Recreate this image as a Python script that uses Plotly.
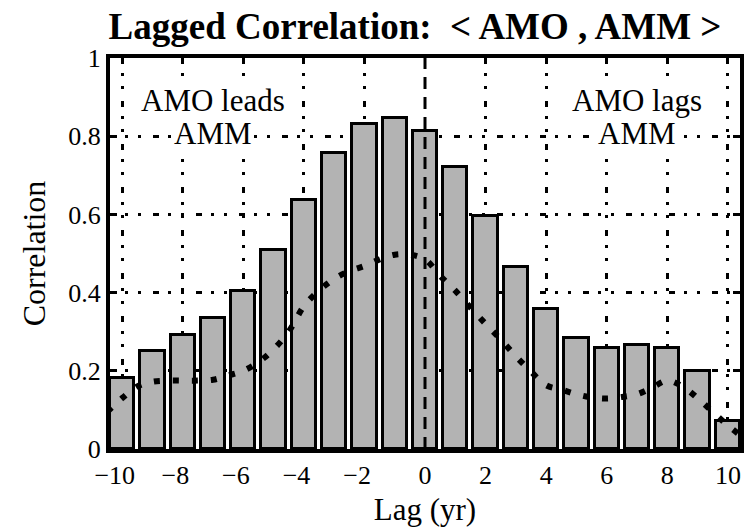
import plotly.graph_objects as go

# ---------------- data ----------------
lags = [-10, -9, -8, -7, -6, -5, -4, -3, -2, -1, 0, 1, 2, 3, 4, 5, 6, 7, 8, 9, 10]
corr_bars = [0.182, 0.250, 0.291, 0.334, 0.405, 0.509, 0.638, 0.757, 0.830, 0.846, 0.813,
             0.722, 0.595, 0.466, 0.357, 0.284, 0.258, 0.266, 0.258, 0.200, 0.071]

smooth_lags = [-10.5, -10, -9.5, -9, -8.5, -8, -7.5, -7, -6.5, -6, -5.5, -5, -4.5, -4, -3.5, -3,
               -2.5, -2, -1.5, -1, -0.5, 0, 0.5, 1, 1.5, 2, 2.5, 3, 3.5, 4, 4.5, 5, 5.5, 6,
               6.5, 7, 7.5, 8, 8.5, 9, 9.5, 10, 10.5]
smooth_corr = [0.095, 0.130, 0.160, 0.172, 0.175, 0.175, 0.175, 0.177, 0.188, 0.200, 0.222, 0.255,
               0.300, 0.365, 0.405, 0.435, 0.455, 0.468, 0.485, 0.497, 0.497, 0.485, 0.443, 0.405,
               0.362, 0.320, 0.280, 0.237, 0.198, 0.163, 0.152, 0.140, 0.132, 0.129, 0.133, 0.140,
               0.157, 0.175, 0.160, 0.130, 0.095, 0.060, 0.030]

x_tick_vals = [-10, -8, -6, -4, -2, 0, 2, 4, 6, 8, 10]
x_tick_text = ["\u221210", "\u22128", "\u22126", "\u22124", "\u22122", "0", "2", "4", "6", "8", "10"]
x_grid_vals = [-10, -8, -6, -4, -2, 2, 4, 6, 8, 10]
y_tick_vals = [0, 0.2, 0.4, 0.6, 0.8, 1]
y_tick_text = ["0", "0.2", "0.4", "0.6", "0.8", "1"]

title_text = "<b>Lagged Correlation:\u00a0\u00a0&lt; AMO , AMM &gt;</b>"
lead_text = ["AMO leads", "AMM"]
lag_text = ["AMO lags", "AMM"]

# ---------------- styles ----------------
SERIF = "Liberation Serif, Times New Roman, serif"
GRID_DASH = "6px,9px,3px,10px,3px,12px"
pad = "<span style='color:rgba(0,0,0,0)'>\u2212</span>"
x_tick_text_padded = [t + pad if t.startswith("\u2212") else t for t in x_tick_text]

fig = go.Figure()

fig.add_trace(go.Bar(
    x=lags, y=corr_bars, width=0.8,
    marker=dict(color="#b3b3b3", line=dict(color="black", width=3)),
    showlegend=False, hoverinfo="skip",
))

fig.add_trace(go.Scatter(
    x=smooth_lags, y=smooth_corr, xaxis="x2", mode="lines",
    line=dict(color="black", width=6, dash="6px,13px", shape="spline"),
    showlegend=False, hoverinfo="skip",
))

# dashed line at zero lag
fig.add_shape(type="line", xref="x", yref="y", x0=0, x1=0, y0=0, y1=1,
              line=dict(color="black", width=3, dash="12px,8px"), layer="above")

annots = []
for t, yv in zip(lead_text, [0.891, 0.808]):
    annots.append(dict(x=-7, y=yv, xref="x", yref="y", text=t, showarrow=False,
                       bgcolor="white", borderpad=0,
                       font=dict(family=SERIF, size=31, color="black")))
for t, yv in zip(lag_text, [0.891, 0.808]):
    annots.append(dict(x=7, y=yv, xref="x", yref="y", text=t, showarrow=False,
                       bgcolor="white", borderpad=0,
                       font=dict(family=SERIF, size=31, color="black")))

fig.update_layout(
    width=747, height=527,
    margin=dict(l=110, r=3, t=58, b=75, pad=0),
    paper_bgcolor="white", plot_bgcolor="white",
    title=dict(text=title_text, x=415 / 747, xanchor="center", xref="container",
               y=1 - 26 / 527, yanchor="middle", yref="container",
               font=dict(family=SERIF, size=37, color="black")),
    bargap=0,
    annotations=annots,
    xaxis=dict(
        range=[-10.4, 10.4], tickmode="array", tickvals=x_tick_vals, ticktext=x_tick_text_padded,
        ticks="", showline=True, linewidth=4, linecolor="black", mirror=True,
        showgrid=False, zeroline=False,
        tickfont=dict(family=SERIF, size=26, color="black"),
        title=dict(text="Lag (yr)", font=dict(family=SERIF, size=31, color="black"), standoff=12),
    ),
    xaxis2=dict(
        range=[-10.4, 10.4], overlaying="x", anchor="y", side="bottom",
        tickmode="array", tickvals=x_grid_vals, showticklabels=False, ticks="",
        showline=False, zeroline=False, showgrid=True,
        gridcolor="black", gridwidth=3, griddash=GRID_DASH,
    ),
    yaxis=dict(
        range=[0, 1], tickmode="array", tickvals=y_tick_vals, ticktext=y_tick_text,
        ticks="inside", ticklen=7, tickwidth=3, tickcolor="black",
        showline=True, linewidth=4, linecolor="black", mirror="ticks",
        showgrid=True, gridcolor="black", gridwidth=3, griddash=GRID_DASH,
        zeroline=False,
        tickfont=dict(family=SERIF, size=26, color="black"),
        title=dict(text="Correlation", font=dict(family=SERIF, size=32, color="black"), standoff=14),
    ),
)

fig.write_html("out.html")
